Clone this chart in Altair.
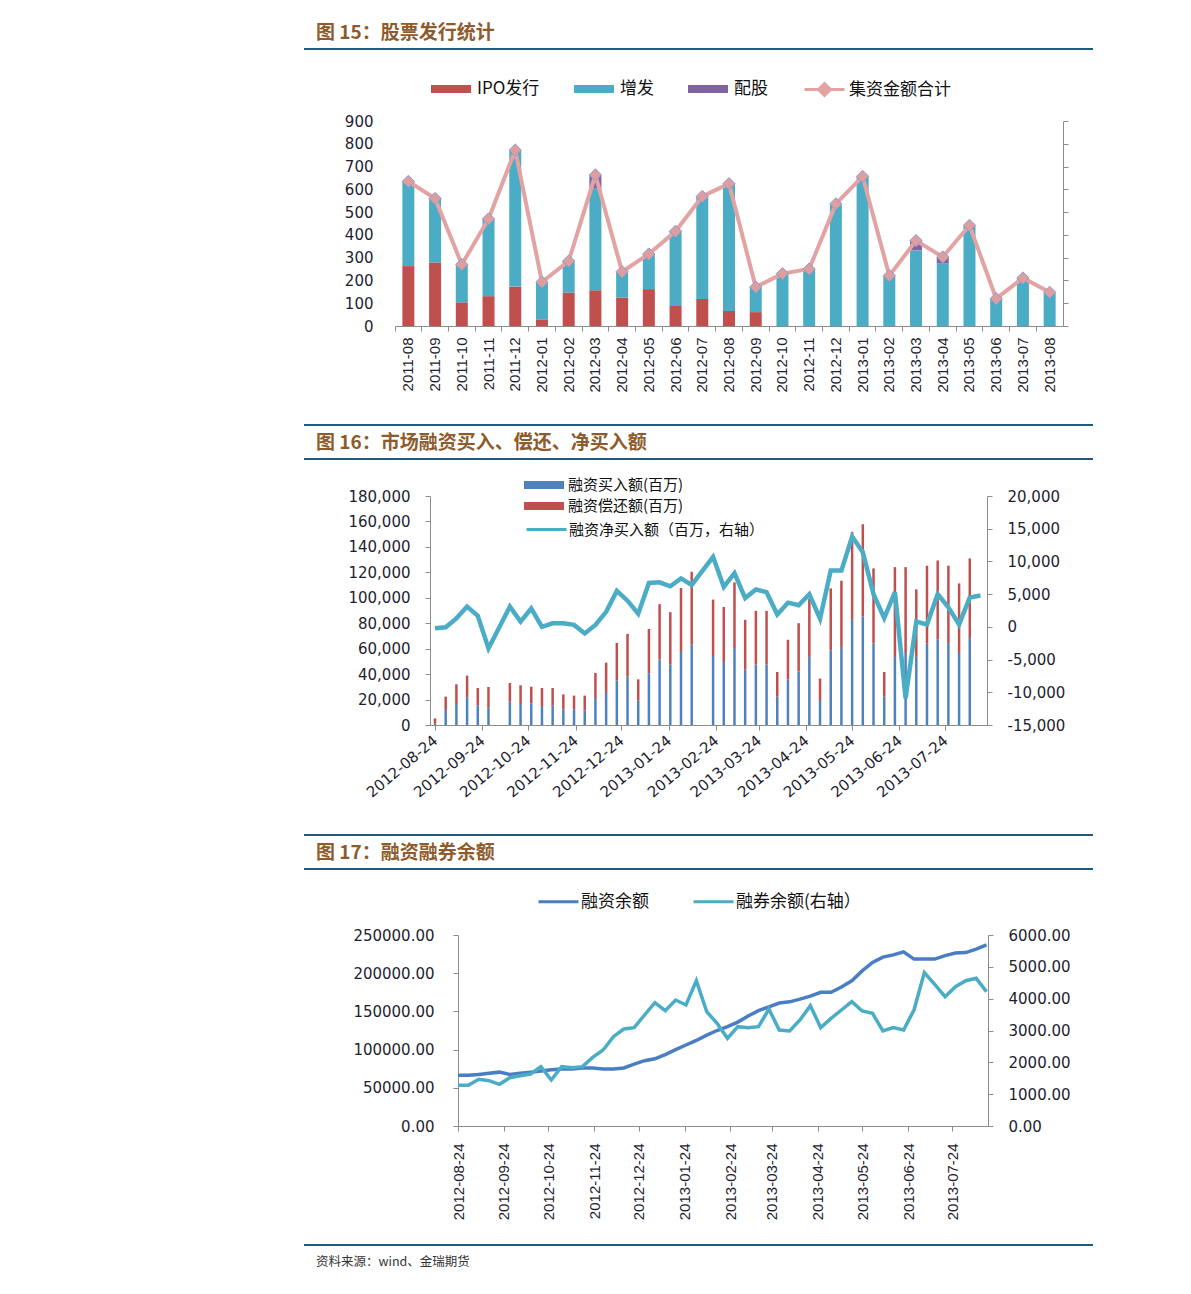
import altair as alt
import pandas as pd

# ---------------- 图 15 data (亿元) ----------------
months15 = ["2011-08", "2011-09", "2011-10", "2011-11", "2011-12", "2012-01", "2012-02",
            "2012-03", "2012-04", "2012-05", "2012-06", "2012-07", "2012-08", "2012-09",
            "2012-10", "2012-11", "2012-12", "2013-01", "2013-02", "2013-03", "2013-04",
            "2013-05", "2013-06", "2013-07", "2013-08"]
ipo15 = [263, 279, 104, 131, 173, 29, 147, 157, 125, 162, 88, 119, 66, 61,
         0, 0, 0, 0, 0, 0, 0, 0, 0, 0, 0]
zf15 = [372, 281, 166, 339, 599, 164, 138, 446, 113, 154, 328, 450, 559, 110,
        230, 250, 536, 657, 221, 332, 274, 442, 120, 211, 148]
pg15 = [0, 0, 0, 0, 0, 0, 0, 60, 0, 0, 0, 0, 0, 0,
        0, 0, 0, 0, 0, 43, 29, 0, 0, 0, 0]
total15 = [635, 560, 270, 470, 772, 193, 285, 663, 238, 316, 416, 569, 625, 171,
           230, 250, 536, 657, 221, 375, 303, 442, 120, 211, 148]
series15 = ["IPO发行", "增发", "配股"]
line15 = "集资金额合计"

# ---------------- 图 16 data (百万) ----------------
dates16 = ["2012-08-24", "2012-08-31", "2012-09-07", "2012-09-14", "2012-09-21", "2012-09-28",
           "2012-10-12", "2012-10-19", "2012-10-26", "2012-11-02", "2012-11-09", "2012-11-16",
           "2012-11-23", "2012-11-30", "2012-12-07", "2012-12-14", "2012-12-21", "2012-12-28",
           "2013-01-04", "2013-01-11", "2013-01-18", "2013-01-25", "2013-02-01", "2013-02-08",
           "2013-02-22", "2013-03-01", "2013-03-08", "2013-03-15", "2013-03-22", "2013-03-29",
           "2013-04-05", "2013-04-12", "2013-04-19", "2013-04-26", "2013-05-03", "2013-05-10",
           "2013-05-17", "2013-05-24", "2013-05-31", "2013-06-07", "2013-06-14", "2013-06-21",
           "2013-06-28", "2013-07-05", "2013-07-12", "2013-07-19", "2013-07-26", "2013-08-02",
           "2013-08-09", "2013-08-16"]
buy16 = [1500, 11800, 16500, 21500, 15500, 13600,
         18300, 16500, 17000, 14200, 15200, 12300,
         12300, 11300, 21200, 25200, 35100, 38000,
         19100, 40600, 51600, 47500, 57400, 63400,
         54200, 49500, 60500, 43500, 47500, 47500,
         22200, 35700, 42000, 53500, 19600, 58400,
         61300, 82700, 85300, 64100, 22200, 53500,
         56600, 53500, 63900, 67300, 64400, 56600,
         68300, None]
repay16 = [3700, 10500, 15500, 17300, 13600, 16300,
           14700, 14700, 13100, 14900, 13900, 11800,
           10800, 11800, 19700, 23800, 29400, 33600,
           16800, 34900, 43400, 41200, 50300, 57100,
           44400, 43300, 51600, 39200, 42200, 42200,
           19500, 31300, 38000, 45600, 16900, 49000,
           52100, 69100, 72500, 59000, 19500, 70600,
           67500, 53100, 61300, 62000, 60800, 54700,
           62600, None]
net16 = [-220, -70, 1300, 3100, 1700, -3300,
         3100, 800, 2800, 0, 550, 550,
         300, -1000, 300, 2300, 5500, 4000,
         2000, 6700, 6800, 6200, 7400, 6400,
         10700, 6100, 8200, 4400, 5700, 5300,
         1900, 3700, 3300, 5000, 1250, 8600,
         8600, 13800, 11400, 5000, 1350, 5300,
         -10900, 800, 370, 5000, 3000, 370,
         4500, 4800]
series16 = ["融资买入额(百万)", "融资偿还额(百万)"]
line16 = "融资净买入额（百万，右轴）"

# ---------------- 图 17 data ----------------
dates17 = ["2012-08-24", "2012-08-31", "2012-09-07", "2012-09-14", "2012-09-21", "2012-09-28",
           "2012-10-05", "2012-10-12", "2012-10-19", "2012-10-26", "2012-11-02", "2012-11-09",
           "2012-11-16", "2012-11-23", "2012-11-30", "2012-12-07", "2012-12-14", "2012-12-21",
           "2012-12-28", "2013-01-04", "2013-01-11", "2013-01-18", "2013-01-25", "2013-02-01",
           "2013-02-08", "2013-02-15", "2013-02-22", "2013-03-01", "2013-03-08", "2013-03-15",
           "2013-03-22", "2013-03-29", "2013-04-05", "2013-04-12", "2013-04-19", "2013-04-26",
           "2013-05-03", "2013-05-10", "2013-05-17", "2013-05-24", "2013-05-31", "2013-06-07",
           "2013-06-14", "2013-06-21", "2013-06-28", "2013-07-05", "2013-07-12", "2013-07-19",
           "2013-07-26", "2013-08-02", "2013-08-09", "2013-08-16"]
margin17 = [66300, 66300, 67500, 69000, 70500, 67500, 69000, 70500, 72000, 73500,
            74500, 74600, 75800, 75800, 74600, 74600, 76000, 81000, 85500, 88000,
            93500, 100000, 106000, 112000, 119000, 125000, 130000, 136000, 144000, 151000,
            156000, 161000, 162500, 166000, 170000, 175000, 175000, 182000, 190000, 203000,
            214000, 221000, 224000, 228000, 218500, 218500, 218500, 223000, 226500, 227000,
            231500, 237000]
short17 = [1277, 1277, 1466, 1424, 1309, 1518, 1581, 1634, 1864, 1445,
           1864, 1832, 1864, 2157, 2387, 2806, 3047, 3089, 3487, 3874,
           3623, 3958, 3801, 4565, 3592, 3225, 2754, 3120, 3089, 3120,
           3675, 3016, 2984, 3330, 3780, 3089, 3382, 3644, 3906, 3613,
           3539, 2984, 3089, 3016, 3644, 4817, 4450, 4063, 4377, 4565,
           4639, 4220]
series17 = ["融资余额", "融券余额(右轴）"]

tick_dates = ["2012-08-24", "2012-09-24", "2012-10-24", "2012-11-24", "2012-12-24", "2013-01-24",
              "2013-02-24", "2013-03-24", "2013-04-24", "2013-05-24", "2013-06-24", "2013-07-24"]

titles = ["图 15：股票发行统计", "图 16：市场融资买入、偿还、净买入额", "图 17：融资融券余额"]
source_note = "资料来源：wind、金瑞期货"

# ---------------- helpers ----------------
start = pd.Timestamp("2012-08-24")


def to_days(lst):
    return [(pd.Timestamp(d) - start).days for d in lst]


tick_days = to_days(tick_dates)
date_label_expr = f"{tick_dates!r}[indexof({tick_days!r}, datum.value)]"
minus_fix = "replace(format(datum.value, ','), '\u2212', '-')"

W = 1175
H1, H2, H3 = 407, 410, 461
CJK = "Noto Sans CJK SC"
NUMF = "DejaVu Sans"
DATEF = "Liberation Sans"
AX = "#8C8C8C"
LBL = "#1E1E30"
RULE = "#215A7A"
TITLE_C = "#8E5B2C"
LEGF = 17
one = pd.DataFrame({"t": [""]})


def title_text(txt, y):
    return alt.Chart(pd.DataFrame({"t": [txt]})).mark_text(
        align="left", baseline="middle", font=CJK, fontSize=19, fontWeight="bold", color=TITLE_C
    ).encode(x=alt.value(308), y=alt.value(y), text="t:N")


def hrule(y):
    return alt.Chart(one).mark_rule(color=RULE, strokeWidth=2).encode(
        x=alt.value(296), x2=alt.value(1085), y=alt.value(y))


# ================= Panel 1 =================
df15 = pd.DataFrame({"month": months15, "IPO发行": ipo15, "增发": zf15, "配股": pg15,
                     "total": total15, "name": line15})
x15 = alt.Scale(domain=months15, range=[387, 1055], paddingInner=0, paddingOuter=0)
y15 = alt.Scale(domain=[0, 900], range=[318, 113], nice=False, zero=False)
off1 = 318 - H1

bars15 = alt.Chart(df15).transform_fold(series15, as_=["series", "value"]).transform_calculate(
    ord=f"indexof({series15!r}, datum.series)"
).mark_bar(size=12).encode(
    x=alt.X("month:N", scale=x15,
            axis=alt.Axis(orient="bottom", offset=off1, labels=False, ticks=True, tickSize=5,
                          bandPosition=0, domain=True, domainColor=AX, tickColor=AX,
                          grid=False, title=None)),
    y=alt.Y("value:Q", scale=y15, stack="zero",
            axis=alt.Axis(orient="left", offset=-387, domain=False, ticks=False, tickSize=0,
                          grid=False, values=list(range(0, 1000, 100)), labelPadding=22,
                          labelFont=NUMF, labelFontSize=15, labelColor=LBL, title=None)),
    fill=alt.Fill("series:N", scale=alt.Scale(domain=series15, range=["#C0504D", "#4BACC6", "#8064A2"]),
                  legend=alt.Legend(orient="none", legendX=422, legendY=60, direction="horizontal",
                                    title=None, symbolType="M-1,-0.2H1V0.2H-1Z", symbolSize=1600,
                                    columnPadding=33, labelFont=CJK, labelFontSize=LEGF,
                                    labelLimit=400, labelColor="#111", labelOffset=5)),
    order=alt.Order("ord:Q", sort="ascending"),
)

lineL15 = alt.Chart(df15).mark_line(strokeWidth=4).encode(
    x=alt.X("month:N", scale=x15,
            axis=alt.Axis(orient="bottom", offset=off1, domain=False, ticks=False, tickSize=0,
                          labelAngle=-90, labelAlign="right", labelBaseline="middle",
                          labelPadding=11, labelLimit=300, labelFont=DATEF, labelFontSize=15,
                          labelColor=LBL, grid=False, title=None)),
    y=alt.Y("total:Q", scale=y15, axis=None),
    stroke=alt.Stroke("name:N", scale=alt.Scale(domain=[line15], range=["#E3A3A3"]),
                      legend=alt.Legend(orient="none", legendX=795, legendY=60, title=None,
                                        symbolType="M-1,0H-0.3M0.3,0H1M-0.3,0L0,-0.3L0.3,0L0,0.3Z",
                                        symbolSize=1600, symbolStrokeWidth=3,
                                        symbolFillColor="#E3A3A3", labelFont=CJK,
                                        labelFontSize=LEGF, labelLimit=400, labelColor="#111",
                                        labelOffset=3)),
)

pts15 = alt.Chart(df15).mark_point(shape="diamond", filled=True, size=150, fill="#DF9E9E",
                                   stroke="#8E9BD0", strokeWidth=1, opacity=1).encode(
    x=alt.X("month:N", scale=x15, axis=None),
    y=alt.Y("total:Q", scale=y15,
            axis=alt.Axis(orient="right", offset=1055 - W, labels=False, ticks=True, tickSize=5,
                          domain=True, domainColor=AX, tickColor=AX, grid=False,
                          values=list(range(0, 1000, 100)), title=None)),
)

panel1 = alt.layer(
    bars15, lineL15, pts15, title_text(titles[0], 25), hrule(41)
).resolve_axis(x="independent", y="independent").properties(width=W, height=H1)

# ================= Panel 2 =================
df16 = pd.DataFrame({"day": to_days(dates16), series16[0]: buy16, series16[1]: repay16,
                     "net": net16, "name": line16})
x16 = alt.Scale(domain=[0, 358], range=[422, 979], nice=False, zero=False)
yl16 = alt.Scale(domain=[0, 180000], range=[310, 81], nice=False, zero=False)
yr16 = alt.Scale(domain=[-15000, 20000], range=[310, 81], nice=False, zero=False)
xaxis16 = alt.Axis(orient="bottom", offset=310 - H2, values=tick_days, labelExpr=date_label_expr,
                   labelAngle=-40, labelAlign="right", labelBaseline="middle", labelPadding=8,
                   tickSize=5, domainColor=AX, tickColor=AX, grid=False, labelLimit=300,
                   labelOverlap=False, labelFont=NUMF, labelFontSize=15, labelColor=LBL,
                   title=None)

bars16 = alt.Chart(df16).transform_fold(series16, as_=["series", "value"]).transform_filter(
    "isValid(datum.value)"
).transform_calculate(ord=f"indexof({series16!r}, datum.series)").mark_bar(size=2.5).encode(
    x=alt.X("day:Q", scale=x16, axis=xaxis16),
    y=alt.Y("value:Q", scale=yl16, stack="zero",
            axis=alt.Axis(orient="left", offset=-422, values=list(range(0, 180001, 20000)),
                          labelExpr=minus_fix, tickSize=5, labelPadding=15, domainColor=AX,
                          tickColor=AX, grid=False, labelFont=NUMF, labelFontSize=15,
                          labelColor=LBL, title=None)),
    fill=alt.Fill("series:N", scale=alt.Scale(domain=series16, range=["#4F81BD", "#C0504D"]),
                  legend=alt.Legend(orient="none", legendX=517, legendY=59, direction="vertical",
                                    title=None, symbolType="M-2,-0.4H2V0.4H-2Z", symbolSize=400,
                                    symbolOffset=8, rowPadding=2, labelFont=CJK,
                                    labelFontSize=15, labelLimit=400, labelColor="#111",
                                    labelOffset=13)),
    order=alt.Order("ord:Q", sort="ascending"),
)

line16_c = alt.Chart(df16).mark_line(strokeWidth=4.5).encode(
    x=alt.X("day:Q", scale=x16, axis=xaxis16),
    y=alt.Y("net:Q", scale=yr16,
            axis=alt.Axis(orient="right", offset=979 - W, values=list(range(-15000, 20001, 5000)),
                          labelExpr=minus_fix, tickSize=5, labelPadding=15, domainColor=AX,
                          tickColor=AX, grid=False, labelFont=NUMF, labelFontSize=15,
                          labelColor=LBL, title=None)),
    stroke=alt.Stroke("name:N", scale=alt.Scale(domain=[line16], range=["#4BACC6"]),
                      legend=alt.Legend(orient="none", legendX=517, legendY=93, title=None,
                                        symbolType="M-1,0H1", symbolSize=1600, symbolStrokeWidth=3,
                                        labelFont=CJK, labelFontSize=15, labelLimit=400,
                                        labelColor="#111", labelOffset=1)),
)

panel2 = alt.layer(
    bars16, line16_c, hrule(10), title_text(titles[1], 28), hrule(44)
).resolve_scale(y="independent").properties(width=W, height=H2)

# ================= Panel 3 =================
df17 = pd.DataFrame({"day": to_days(dates17), "margin": margin17, "short": short17,
                     "n1": series17[0], "n2": series17[1]})
x17 = alt.Scale(domain=[0, 358], range=[450, 980], nice=False, zero=False)
yl17 = alt.Scale(domain=[0, 250000], range=[301, 110], nice=False, zero=False)
yr17 = alt.Scale(domain=[0, 6000], range=[301, 110], nice=False, zero=False)
col17 = alt.Scale(domain=series17, range=["#4A7EC2", "#4BACC6"])
leg17 = alt.Legend(orient="none", legendX=529, legendY=55, direction="horizontal", title=None,
                   symbolType="M-1,0H1", symbolSize=1600, symbolStrokeWidth=3,
                   columnPadding=38, labelFont=CJK, labelFontSize=LEGF, labelLimit=400,
                   labelColor="#111", labelOffset=1)
xaxis17 = alt.Axis(orient="bottom", offset=301 - H3, values=tick_days, labelExpr=date_label_expr,
                   labelAngle=-90, labelAlign="right", labelBaseline="middle", labelPadding=12,
                   tickSize=5, domainColor=AX, tickColor=AX, grid=False, labelLimit=300,
                   labelOverlap=False, labelFont=DATEF, labelFontSize=15, labelColor=LBL,
                   title=None)

m17 = alt.Chart(df17).mark_line(strokeWidth=3.5).encode(
    x=alt.X("day:Q", scale=x17, axis=xaxis17),
    y=alt.Y("margin:Q", scale=yl17,
            axis=alt.Axis(orient="left", offset=-450, values=list(range(0, 250001, 50000)),
                          format=".2f", tickSize=5, labelPadding=19, domainColor=AX,
                          tickColor=AX, grid=False, labelFont=NUMF, labelFontSize=15,
                          labelColor=LBL, title=None)),
    color=alt.Color("n1:N", scale=col17, legend=leg17),
)
s17 = alt.Chart(df17).mark_line(strokeWidth=3.5).encode(
    x=alt.X("day:Q", scale=x17, axis=xaxis17),
    y=alt.Y("short:Q", scale=yr17,
            axis=alt.Axis(orient="right", offset=980 - W, values=list(range(0, 6001, 1000)),
                          format=".2f", tickSize=5, labelPadding=15, domainColor=AX,
                          tickColor=AX, grid=False, labelFont=NUMF, labelFontSize=15,
                          labelColor=LBL, title=None)),
    color=alt.Color("n2:N", scale=col17, legend=leg17),
)

footer = alt.Chart(pd.DataFrame({"t": [source_note]})).mark_text(
    align="left", baseline="middle", font=CJK, fontSize=12.5, color="#333"
).encode(x=alt.value(308), y=alt.value(437), text="t:N")

panel3 = alt.layer(
    m17, s17, hrule(10), title_text(titles[2], 28), hrule(44), hrule(420), footer
).resolve_scale(y="independent").properties(width=W, height=H3)

chart = alt.vconcat(panel1, panel2, panel3, spacing=0, bounds="flush").resolve_scale(
    fill="independent", stroke="independent", color="independent"
).properties(padding=0, background="white").configure_view(stroke=None)

chart.save("out.html", embed_options={"renderer": "svg", "actions": False})
